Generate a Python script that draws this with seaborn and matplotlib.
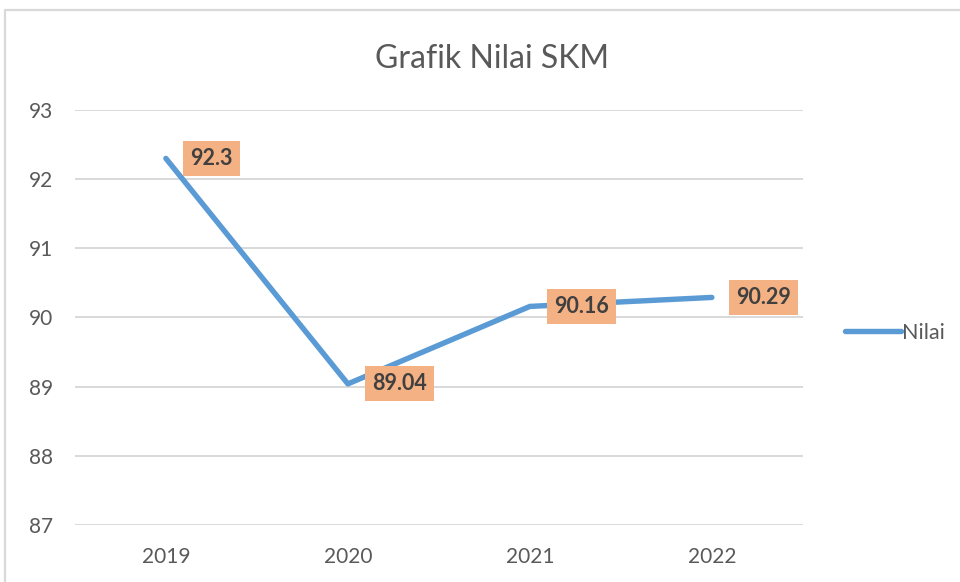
import numpy as np
import pandas as pd
import seaborn as sns
import matplotlib.pyplot as plt
from matplotlib.lines import Line2D

# data
years = ["2019", "2020", "2021", "2022"]
nilai = [92.3, 89.04, 90.16, 90.29]
y_ticks = [87, 88, 89, 90, 91, 92, 93]

line_color = "#5B9BD5"
label_bg = "#F4B183"
grid_color = "#D9D9D9"
text_color = "#595959"

sns.set_theme(style="white")
plt.rcParams['font.family'] = ['Lato', 'DejaVu Sans']

df = pd.DataFrame({"Tahun": years, "Nilai": nilai})

fig = plt.figure(figsize=(9.6, 5.82), dpi=100)
ax = fig.add_axes([0.078, 0.098, 0.7583, 0.713])

sns.lineplot(data=df, x="Tahun", y="Nilai", ax=ax, color=line_color,
             linewidth=3.9, solid_capstyle="round", sort=False)

ax.set_xlim(-0.5, len(years) - 0.5)
ax.set_ylim(min(y_ticks), max(y_ticks))
ax.set_yticks(y_ticks)
ax.yaxis.grid(True, color=grid_color, linewidth=1.4)
ax.set_axisbelow(True)
for s in ax.spines.values():
    s.set_visible(False)
ax.tick_params(axis="both", length=0, labelsize=15, colors=text_color)
ax.tick_params(axis="y", pad=16)
ax.tick_params(axis="x", pad=16)
ax.set_xlabel("")
ax.set_ylabel("")

# data labels
for i, v in enumerate(nilai):
    ax.annotate(f"{v:g}", xy=(i, v), xytext=(17.3, 0), textcoords="offset points",
                ha="left", va="center", fontsize=15.5, fontweight="bold",
                color="#404040",
                bbox=dict(boxstyle="square,pad=0.33", fc=label_bg, ec="none"))

ax.set_title("Grafik Nilai SKM", fontsize=23, color=text_color, pad=30, x=0.573)

handle = Line2D([0], [0], color=line_color, linewidth=3.9, solid_capstyle="round")
ax.legend([handle], ["Nilai"], loc="center left", bbox_to_anchor=(1.058, 0.463),
          frameon=False, fontsize=15.5, handlelength=2.6, handletextpad=0.05,
          borderpad=0, borderaxespad=0, labelcolor=text_color)

# chart border (top and left visible)
fig.add_artist(Line2D([5 / 960, 1.0], [1 - 10 / 582, 1 - 10 / 582],
                      transform=fig.transFigure, color=grid_color, linewidth=1.6))
fig.add_artist(Line2D([5 / 960, 5 / 960], [0.0, 1 - 10 / 582],
                      transform=fig.transFigure, color=grid_color, linewidth=1.6))

fig.savefig("out.png", dpi=100, facecolor="white")
